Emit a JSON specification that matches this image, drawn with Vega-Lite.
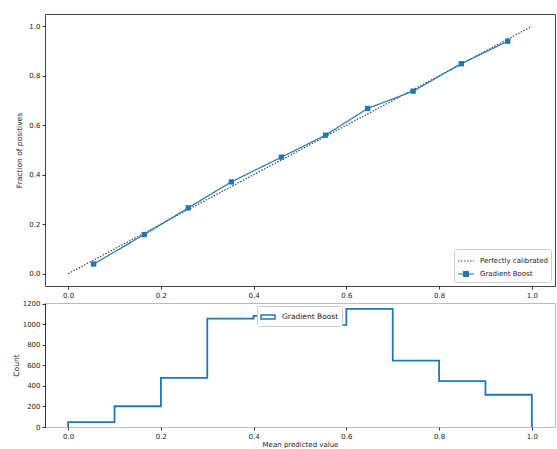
{
  "$schema": "https://vega.github.io/schema/vega-lite/v6.json",
  "padding": {"left": 11, "top": 13, "right": 0, "bottom": 0},
  "background": "white",
  "bounds": "flush",
  "spacing": 17,
  "resolve": {"scale": {"color": "independent", "strokeDash": "independent"}, "legend": {"color": "independent"}},
  "config": {
    "font": "DejaVu Sans",
    "axis": {"labelFont": "DejaVu Sans", "labelFontSize": 7, "labelColor": "#222", "tickColor": "#333", "tickSize": 3, "labelPadding": 2, "domain": false, "grid": false, "titleFont": "DejaVu Sans", "titleFontSize": 7.5, "titleFontWeight": "normal", "titleColor": "#222"},
    "legend": {"labelFont": "DejaVu Sans", "labelFontSize": 7, "labelColor": "#222"}
  },
  "datasets": {
    "calib": [
      {"series": "Perfectly calibrated", "x": 0, "y": 0},
      {"series": "Perfectly calibrated", "x": 1, "y": 1},
      {"series": "Gradient Boost", "x": 0.055, "y": 0.039},
      {"series": "Gradient Boost", "x": 0.164, "y": 0.158},
      {"series": "Gradient Boost", "x": 0.259, "y": 0.266},
      {"series": "Gradient Boost", "x": 0.352, "y": 0.371},
      {"series": "Gradient Boost", "x": 0.46, "y": 0.471},
      {"series": "Gradient Boost", "x": 0.555, "y": 0.56},
      {"series": "Gradient Boost", "x": 0.646, "y": 0.668},
      {"series": "Gradient Boost", "x": 0.744, "y": 0.738},
      {"series": "Gradient Boost", "x": 0.848, "y": 0.849},
      {"series": "Gradient Boost", "x": 0.948, "y": 0.94}
    ],
    "hist": [
      {"i": 0, "series": "Gradient Boost", "edge": 0.0, "count": 0},
      {"i": 1, "series": "Gradient Boost", "edge": 0.0, "count": 48},
      {"i": 2, "series": "Gradient Boost", "edge": 0.1, "count": 202},
      {"i": 3, "series": "Gradient Boost", "edge": 0.2, "count": 478},
      {"i": 4, "series": "Gradient Boost", "edge": 0.3, "count": 1056},
      {"i": 5, "series": "Gradient Boost", "edge": 0.4, "count": 1082},
      {"i": 6, "series": "Gradient Boost", "edge": 0.5, "count": 994},
      {"i": 7, "series": "Gradient Boost", "edge": 0.6, "count": 1150},
      {"i": 8, "series": "Gradient Boost", "edge": 0.7, "count": 647},
      {"i": 9, "series": "Gradient Boost", "edge": 0.8, "count": 446},
      {"i": 10, "series": "Gradient Boost", "edge": 0.9, "count": 314},
      {"i": 11, "series": "Gradient Boost", "edge": 1.0, "count": 314},
      {"i": 12, "series": "Gradient Boost", "edge": 1.0, "count": 0}
    ]
  },
  "vconcat": [
    {
      "width": 510,
      "height": 272,
      "view": {"stroke": "#444", "strokeWidth": 1},
      "data": {"name": "calib"},
      "layer": [
        {
          "mark": {"type": "line", "strokeWidth": 1.2},
          "encoding": {
            "x": {"field": "x", "type": "quantitative", "scale": {"domain": [-0.05, 1.05], "nice": false, "zero": false}, "axis": {"values": [0, 0.2, 0.4, 0.6, 0.8, 1.0], "format": ".1f", "title": null}},
            "y": {"field": "y", "type": "quantitative", "scale": {"domain": [-0.05, 1.05], "nice": false, "zero": false}, "axis": {"values": [0, 0.2, 0.4, 0.6, 0.8, 1.0], "format": ".1f", "title": "Fraction of positives", "titlePadding": 5}},
            "color": {"field": "series", "type": "nominal", "scale": {"domain": ["Perfectly calibrated", "Gradient Boost"], "range": ["#444444", "#1f77b4"]},
              "legend": {"orient": "bottom-right", "title": null, "offset": 4, "padding": 3, "rowPadding": 1, "strokeColor": "#cccccc", "fillColor": "white", "cornerRadius": 2, "symbolSize": 256, "symbolStrokeWidth": 1.2, "labelOffset": 5,
                "encode": {"symbols": {"update": {
                  "shape": {"signal": "datum.value === 'Gradient Boost' ? 'M-1,0H1M-0.3,-0.3H0.3V0.3H-0.3Z' : 'M-1,0H1'"},
                  "fill": {"signal": "datum.value === 'Gradient Boost' ? '#1f77b4' : 'transparent'"},
                  "strokeDash": {"signal": "datum.value === 'Perfectly calibrated' ? [1.5, 1.5] : [1, 0]"}
                }}}}},
            "strokeDash": {"field": "series", "type": "nominal", "scale": {"domain": ["Perfectly calibrated", "Gradient Boost"], "range": [[1.5, 1.5], [1, 0]]}, "legend": null}
          }
        },
        {
          "transform": [{"filter": "datum.series === 'Gradient Boost'"}],
          "mark": {"type": "point", "shape": "square", "filled": true, "size": 28, "color": "#1f77b4", "opacity": 1},
          "encoding": {
            "x": {"field": "x", "type": "quantitative"},
            "y": {"field": "y", "type": "quantitative"}
          }
        }
      ]
    },
    {
      "width": 510,
      "height": 124,
      "view": {"stroke": "#bbbbbb", "strokeWidth": 1},
      "data": {"name": "hist"},
      "mark": {"type": "line", "interpolate": "step-after", "strokeWidth": 1.8},
      "encoding": {
        "x": {"field": "edge", "type": "quantitative", "scale": {"domain": [-0.05, 1.05], "nice": false, "zero": false}, "axis": {"values": [0, 0.2, 0.4, 0.6, 0.8, 1.0], "format": ".1f", "title": "Mean predicted value", "titlePadding": 1, "titleFontSize": 7}},
        "y": {"field": "count", "type": "quantitative", "scale": {"domain": [0, 1208], "nice": false}, "axis": {"values": [0, 200, 400, 600, 800, 1000, 1200], "format": "d", "title": "Count", "titlePadding": 2, "domain": true, "domainColor": "#333"}},
        "order": {"field": "i", "type": "quantitative"},
        "color": {"field": "series", "type": "nominal", "scale": {"domain": ["Gradient Boost"], "range": ["#1f77b4"]},
          "legend": {"orient": "none", "legendX": 212, "legendY": 3, "title": null, "padding": 3, "strokeColor": "#cccccc", "fillColor": "white", "cornerRadius": 2, "symbolType": "M-1,-0.3H1V0.3H-1Z", "symbolSize": 196, "symbolFillColor": "white", "symbolStrokeWidth": 1.5, "labelOffset": 6, "labelFontSize": 7.5,
            "encode": {"symbols": {"update": {"fill": {"value": "white"}, "shape": {"value": "M-1,-0.3H1V0.3H-1Z"}}}}}
        }
      }
    }
  ]
}
